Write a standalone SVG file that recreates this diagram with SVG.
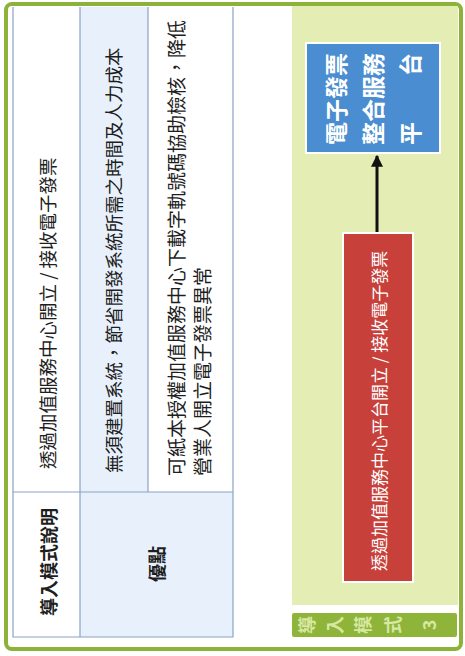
<svg xmlns="http://www.w3.org/2000/svg" width="465" height="656" viewBox="0 0 465 656">
  <defs>
    <style>
      .t { font-family: "Noto Sans CJK TC", "Noto Sans CJK SC", sans-serif; dominant-baseline: central; }
      .cell { fill: #1e1e1e; }
      .hdr { fill: #1e1e1e; font-weight: bold; }
      .grid { stroke: #8aa3c6; stroke-width: 1.2; fill: none; }
      .box-text { fill: #ffffff; }
      .lbl { fill: #d6e8a2; font-weight: bold; font-size: 18px; text-anchor: middle; }
    </style>
    <marker id="arrow" viewBox="0 0 10 10" refX="9" refY="5" markerWidth="4" markerHeight="4" markerUnits="strokeWidth" orient="auto">
      <path d="M0,0 L10,5 L0,10 z" fill="#111"/>
    </marker>
  </defs>

  <!-- outer frame -->
  <rect x="6" y="4" width="455" height="645" rx="6" fill="#ffffff" stroke="#8cb23a" stroke-width="4"/>

  <!-- table -->
  <g id="table">
    <rect x="80" y="7" width="68" height="485" fill="#e8f1fb"/>
    <rect x="80" y="492" width="153" height="145" fill="#e8f1fb"/>
    <path class="grid" d="M13,7 V637 H233 V7 M80,7 V637 M148,7 V492 M13,492 H233"/>
  </g>

  <g id="row-mode">
    <text class="t hdr" x="48" y="616" font-size="18" transform="rotate(-90 48 616)">導入模式說明</text>
    <text class="t cell" x="47" y="469" font-size="18.5" transform="rotate(-90 47 469)">透過加值服務中心開立 / 接收電子發票</text>
  </g>

  <g id="row-advantage">
    <text class="t hdr" x="156" y="564" font-size="18" text-anchor="middle" transform="rotate(-90 156 564)">優點</text>
    <text class="t cell" x="113" y="473" font-size="18.5" transform="rotate(-90 113 473)">無須建置系統，節省開發系統所需之時間及人力成本</text>
    <text class="t cell" x="175" y="476" font-size="19" transform="rotate(-90 175 476)">可紙本授權加值服務中心下載字軌號碼協助檢核，降低</text>
    <text class="t cell" x="201" y="476" font-size="19" transform="rotate(-90 201 476)">營業人開立電子發票異常</text>
  </g>

  <!-- right panel -->
  <rect x="292" y="6" width="166" height="599" fill="#e4eeb4"/>

  <g id="connectors">
    <line x1="377" y1="233" x2="377" y2="156" stroke="#111" stroke-width="3" marker-end="url(#arrow)"/>
  </g>

  <g id="node-platform">
    <rect x="306" y="43" width="134" height="110" fill="#4a8dd0" stroke="#ffffff" stroke-width="2"/>
    <text class="t box-text" x="335" y="145" font-size="23" font-weight="bold" transform="rotate(-90 335 145)">電子發票</text>
    <text class="t box-text" x="372" y="145" font-size="23" font-weight="bold" transform="rotate(-90 372 145)">整合服務</text>
    <text class="t box-text" x="409" y="145" font-size="23" font-weight="bold" transform="rotate(-90 409 145)">平　　台</text>
  </g>

  <g id="node-vas">
    <rect x="343" y="233" width="70" height="349" fill="#c8403a" stroke="#ffffff" stroke-width="2"/>
    <text class="t box-text" x="378" y="571" font-size="17" transform="rotate(-90 378 571)">透過加值服務中心平台開立 / 接收電子發票</text>
  </g>

  <g id="label">
    <rect x="292" y="613" width="165" height="24" rx="2" fill="#8fb43a"/>
    <text class="t lbl" x="306" y="625" transform="rotate(-90 306 625)">導</text>
    <text class="t lbl" x="334" y="625" transform="rotate(-90 334 625)">入</text>
    <text class="t lbl" x="362" y="625" transform="rotate(-90 362 625)">模</text>
    <text class="t lbl" x="392" y="625" transform="rotate(-90 392 625)">式</text>
    <text class="t lbl" x="428" y="625" transform="rotate(-90 428 625)">3</text>
  </g>
</svg>
